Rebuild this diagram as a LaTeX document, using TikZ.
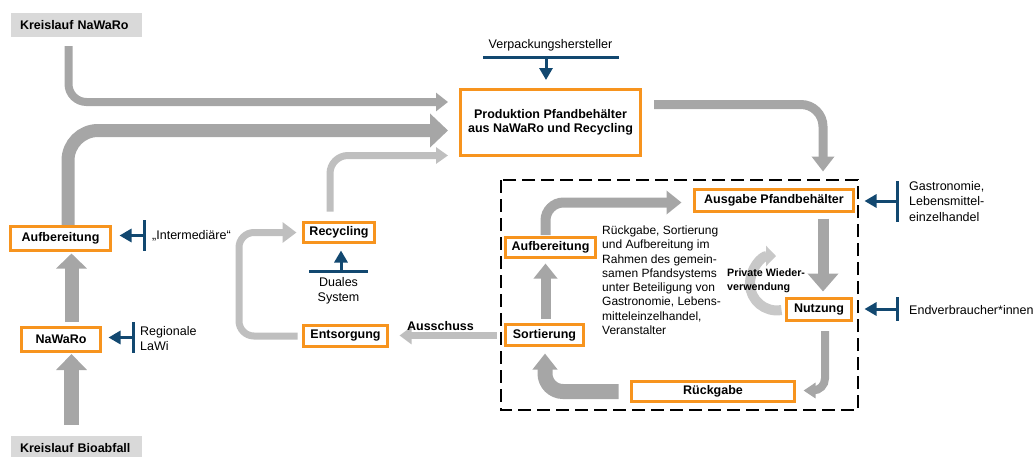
\documentclass[tikz,border=0pt]{standalone}
\usepackage{fontspec}
\setmainfont{Liberation Sans}
\usetikzlibrary{arrows.meta,calc}

\definecolor{boxorange}{RGB}{247,148,30}
\definecolor{flowdark}{RGB}{166,166,166}
\definecolor{flowlight}{RGB}{191,191,191}
\definecolor{flowpale}{RGB}{200,200,200}
\definecolor{actorblue}{RGB}{18,72,112}
\definecolor{tagfill}{RGB}{217,217,217}

\pgfdeclarelayer{flows}
\pgfsetlayers{flows,main}

\begin{document}
\begin{tikzpicture}[x=1pt,y=-1pt,
  lbl/.style={inner sep=0pt, align=left, text=black, font=\fontsize{12.5}{15}\selectfont},
  stage/.style={draw=boxorange, line width=3pt, fill=white, inner sep=0pt,
    align=center, font=\fontsize{12.5}{14}\selectfont\bfseries},
  tag/.style={fill=tagfill, inner xsep=9pt, inner ysep=0pt, minimum height=24pt,
    text width=113pt, align=left, font=\fontsize{12.5}{15}\selectfont\bfseries},
  actorline/.style={draw=actorblue, line width=3pt},
  actorarrow/.style={actorline, -{Triangle[width=13pt,length=12pt]}},
]
\useasboundingbox (0,0) rectangle (1035,456);

% ---------- cycle labels ----------
\node[tag] (kn) at (76.5,25) {Kreislauf NaWaRo};
\node[tag] (kb) at (76.5,448) {Kreislauf Bioabfall};

% ---------- deposit system frame ----------
\draw[black, line width=2.8pt, dash pattern=on 13pt off 6pt] (501,180) rectangle (858,410);

% ---------- process stages ----------
\node[stage, minimum width=180pt, minimum height=66pt] (prod) at (550.5,122.5)
  {Produktion Pfandbehälter\\aus NaWaRo und Recycling};
\node[stage, minimum width=159pt, minimum height=22pt] (ausgabe) at (774,200.5) {Ausgabe Pfandbehälter};
\node[stage, minimum width=65pt, minimum height=22pt] (nutzung) at (819,309.5) {Nutzung};
\node[stage, minimum width=163pt, minimum height=20pt] (rueck) at (713,391.5) {Rückgabe};
\node[stage, minimum width=78pt, minimum height=21pt] (sort) at (544.5,335) {Sortierung};
\node[stage, minimum width=90pt, minimum height=20pt] (aufb2) at (550.5,247.5) {Aufbereitung};
\node[stage, minimum width=100pt, minimum height=24pt] (aufb1) at (60.5,238.5) {Aufbereitung};
\node[stage, minimum width=79pt, minimum height=24pt] (nawaro) at (61,339.5) {NaWaRo};
\node[stage, minimum width=71pt, minimum height=20pt] (recyc) at (339,232.5) {Recycling};
\node[stage, minimum width=84pt, minimum height=21pt] (entsorg) at (345.5,336) {Entsorgung};

% ---------- descriptive texts ----------
\node[inner sep=0pt, anchor=north west, align=left, font=\fontsize{12}{14.3}\selectfont] (desc) at (602,225.5)
  {Rückgabe, Sortierung\\und Aufbereitung im\\Rahmen des gemein-\\samen Pfandsystems\\unter Beteiligung von\\Gastronomie, Lebens-\\mitteleinzelhandel,\\Veranstalter};

% ---------- material flows ----------
\begin{pgfonlayer}{flows}
  % raw material cycle into production
  \draw[flowdark, line width=8pt, rounded corners=18pt, -{Triangle[width=18pt,length=12pt]}]
    ($(kn.south)+(-8,9)$) |- ($(prod.west)+(-11,-20.5)$);
  \draw[flowdark, line width=13pt, rounded corners=30pt, -{Triangle[width=33pt,length=18pt]}]
    ($(aufb1.north)+(7.5,0)$) |- ($(prod.west)+(-11,8)$);
  \draw[flowlight, line width=7pt, rounded corners=18pt, -{Triangle[width=16pt,length=12pt]}]
    ($(recyc.north)+(-9,-9.5)$) |- ($(prod.west)+(-11,33)$);
  % bio waste cycle
  \draw[flowdark, line width=15pt, -{Triangle[width=30pt,length=16pt]}]
    ($(kb.north)+(-5,-11)$) -- ($(nawaro.south)+(10.5,1)$);
  \draw[flowdark, line width=14pt, -{Triangle[width=30pt,length=15pt]}]
    ($(nawaro.north)+(10.5,-4.5)$) -- ($(aufb1.south)+(11,1.5)$);
  % deposit loop
  \draw[flowdark, line width=9pt, rounded corners=22pt, -{Triangle[width=22pt,length=15pt]}]
    ($(prod.east)+(12,-18)$) -| ($(ausgabe.north)+(49,-16.5)$);
  \draw[flowdark, line width=11pt, -{Triangle[width=30pt,length=18pt]}]
    ($(ausgabe.south)+(49,5.5)$) -- ($(nutzung.north)+(4,-5.5)$);
  \draw[flowdark, line width=8pt, rounded corners=12pt, -{Triangle[width=15pt,length=12pt]}]
    ($(nutzung.south)+(6,9)$) |- ($(rueck.east)+(7.5,-1)$);
  \draw[flowdark, line width=15pt, rounded corners=18pt, -{Triangle[width=24pt,length=16pt]}]
    ($(rueck.west)+(-11.5,0)$) -| ($(sort.south)+(0.5,6.5)$);
  \draw[flowdark, line width=10pt, -{Triangle[width=23pt,length=15pt]}]
    ($(sort.north)+(1,-4.5)$) -- ($(aufb2.south)+(-5,4.5)$);
  \draw[flowdark, line width=10pt, rounded corners=18pt, -{Triangle[width=23pt,length=15pt]}]
    ($(aufb2.north)+(-5,-1)$) |- ($(ausgabe.west)+(-11.5,2)$);
  % private reuse
  \draw[flowpale, line width=10pt, -{Triangle[width=20pt,length=10pt]}]
    ($(nutzung.west)+(-3.5,0.5)$) .. controls (765,313) and (750,300) .. (750,284)
    .. controls (750,268) and (762,256) .. (776,256);
  % rejects and recycling
  \draw[flowlight, line width=7pt, -{Triangle[width=17pt,length=12pt]}]
    ($(sort.west)+(-7,0.5)$) -- ($(entsorg.east)+(10.5,-0.5)$)
    node[pos=0.58, yshift=9.5pt, inner sep=0pt, text=black, font=\fontsize{12.5}{15}\selectfont\bfseries] (aus) {Ausschuss};
  \draw[flowlight, line width=7pt, rounded corners=15pt, -{Triangle[width=20pt,length=14pt]}]
    ($(entsorg.west)+(-4.5,0)$) -| ($(recyc.west)+(-63,0)$) -- ($(recyc.west)+(-5.5,0)$);
\end{pgfonlayer}

\node[inner sep=0pt, anchor=west, align=left, font=\fontsize{10.7}{14}\selectfont\bfseries] (priv) at (727,281)
  {Private Wieder-\\verwendung};

% ---------- actors ----------
\node[lbl] (verp) at (550.5,45) {Verpackungshersteller};
\coordinate (vL) at (483,57); \coordinate (vR) at (619,57); \coordinate (vM) at (546,57);
\draw[actorline] (vL) -- (vR);
\draw[actorarrow] (vM) -- ($(prod.north)+(-4.5,-8)$);

\node[lbl, anchor=west] (interm) at (152,236) {„Intermediäre“};
\coordinate (iT) at (144,220); \coordinate (iB) at (144,251); \coordinate (iM) at (144,235.5);
\draw[actorline] (iT) -- (iB);
\draw[actorarrow] (iM) -- ($(aufb1.east)+(7.5,-3)$);

\node[lbl, anchor=west] (lawi) at (140,338.5) {Regionale\\LaWi};
\coordinate (rT) at (133,322); \coordinate (rB) at (133,353); \coordinate (rM) at (133,337.5);
\draw[actorline] (rT) -- (rB);
\draw[actorarrow] (rM) -- ($(nawaro.east)+(6.5,-2)$);

\node[lbl, anchor=west, font=\fontsize{12.5}{15.5}\selectfont] (gastro) at (909,201.5) {Gastronomie,\\Lebensmittel-\\einzelhandel};
\coordinate (gT) at (897,181); \coordinate (gB) at (897,222); \coordinate (gM) at (897,201);
\draw[actorline] (gT) -- (gB);
\draw[actorarrow] (gM) -- ($(ausgabe.east)+(9.5,0.5)$);

\node[lbl, anchor=west] (endv) at (909,310) {Endverbraucher*innen};
\coordinate (eT) at (897,297); \coordinate (eB) at (897,321); \coordinate (eM) at (897,309);
\draw[actorline] (eT) -- (eB);
\draw[actorarrow] (eM) -- ($(nutzung.east)+(11.5,-0.5)$);

\node[lbl, align=center] (duales) at (338.5,290.5) {Duales\\System};
\coordinate (dL) at (309,271); \coordinate (dR) at (368,271); \coordinate (dM) at (341,271);
\draw[actorline] (dL) -- (dR);
\draw[actorarrow] (dM) -- ($(recyc.south)+(2,6.5)$);

\end{tikzpicture}
\end{document}
